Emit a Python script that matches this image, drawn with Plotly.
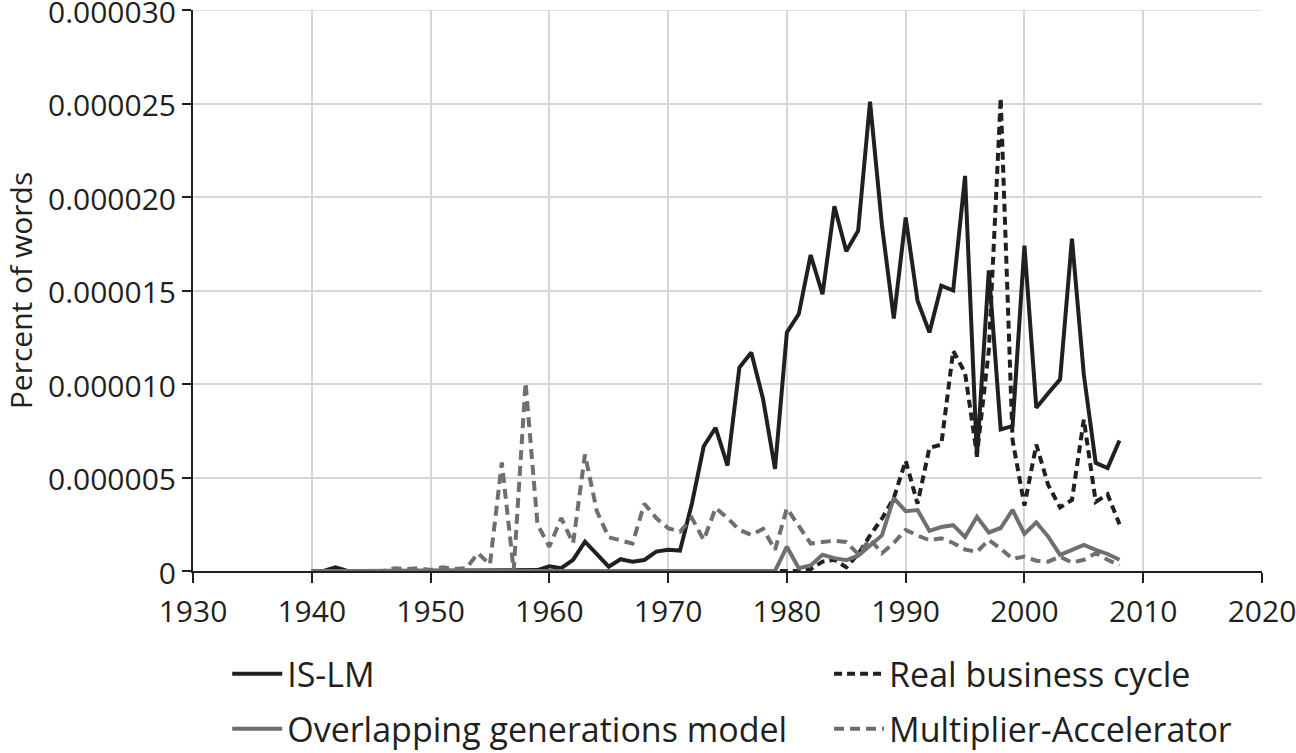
import plotly.graph_objects as go

years = list(range(1940, 2009))

# values in units of 1e-6 percent of words
is_lm = [0, 0, 0.2, 0, 0, 0, 0, 0, 0, 0,
         0, 0, 0, 0, 0, 0, 0, 0, 0, 0.05,
         0.25, 0.15, 0.6, 1.57, 0.9, 0.23, 0.63, 0.5, 0.59, 1.04,
         1.13, 1.09, 3.6, 6.67, 7.66, 5.64, 10.88, 11.69, 9.18, 5.46,
         12.76, 13.74, 16.9, 14.8, 19.5, 17.1, 18.2, 25.1, 18.5, 13.5,
         18.9, 14.45, 12.76, 15.26, 15.0, 21.13, 6.1, 16.07, 7.57, 7.75,
         17.4, 8.73, 9.5, 10.25, 17.77, 10.5, 5.78, 5.5, 6.98]

rbc = [0, 0, 0, 0, 0, 0, 0, 0, 0, 0,
       0, 0, 0, 0, 0, 0, 0, 0, 0, 0,
       0, 0, 0, 0, 0, 0, 0, 0, 0, 0,
       0, 0, 0, 0, 0, 0, 0, 0, 0, 0,
       0, 0, 0.1, 0.5, 0.6, 0.2, 0.9, 1.9, 2.8, 3.9,
       5.9, 3.6, 6.58, 6.76, 11.77, 10.6, 6.2, 11.8, 25.3, 7.0,
       3.5, 6.76, 4.6, 3.4, 3.8, 8.1, 3.7, 4.1, 2.5]

olg = [0, 0, 0, 0, 0, 0, 0, 0, 0, 0,
       0, 0, 0, 0, 0, 0, 0, 0, 0, 0,
       0, 0, 0, 0, 0, 0, 0, 0, 0, 0,
       0, 0, 0, 0, 0, 0, 0, 0, 0, 0,
       1.3, 0.15, 0.3, 0.87, 0.69, 0.58, 0.82, 1.38, 1.9, 3.9,
       3.2, 3.26, 2.15, 2.35, 2.45, 1.82, 2.9, 2.06, 2.3, 3.27,
       1.98, 2.6, 1.84, 0.86, 1.13, 1.4, 1.13, 0.91, 0.6]

mult_acc = [0, 0, 0, 0, 0, 0, 0, 0.15, 0.1, 0.15,
            0.05, 0.2, 0.1, 0.15, 0.95, 0.35, 5.8, 0.05, 10.07, 2.5,
            1.3, 2.83, 1.49, 6.23, 3.2, 1.8, 1.65, 1.47, 3.6, 2.83,
            2.29, 2.1, 2.83, 1.66, 3.37, 2.83, 2.2, 1.93, 2.25, 1.13,
            3.35, 2.4, 1.47, 1.55, 1.62, 1.55, 0.9, 1.7, 0.95, 1.5,
            2.2, 1.9, 1.64, 1.75, 1.5, 1.15, 1.02, 1.66, 1.2, 0.65,
            0.77, 0.55, 0.5, 0.77, 0.45, 0.6, 0.95, 0.6, 0.3]

scale = 1e-6
y_tickvals = [0, 0.000005, 0.00001, 0.000015, 0.00002, 0.000025, 0.00003]
y_ticktext = ["0", "0.000005", "0.000010", "0.000015", "0.000020", "0.000025", "0.000030"]
x_tickvals = [1930, 1940, 1950, 1960, 1970, 1980, 1990, 2000, 2010, 2020]

BLACK = "#231f20"
GRAY = "#6f6f6f"
GRID = "#d6d6d6"
FONT = "Open Sans"
LW = 4

fig = go.Figure()
fig.add_trace(go.Scatter(x=years, y=[v * scale for v in is_lm], mode="lines", name="IS-LM",
                         legend="legend", legendgroup="a",
                         line=dict(color=BLACK, width=LW)))
fig.add_trace(go.Scatter(x=years, y=[v * scale for v in rbc], mode="lines", name="Real business cycle",
                         legend="legend2", legendgroup="b",
                         line=dict(color=BLACK, width=LW, dash="8px,5px")))
fig.add_trace(go.Scatter(x=years, y=[v * scale for v in olg], mode="lines", name="Overlapping generations model",
                         legend="legend", legendgroup="c",
                         line=dict(color=GRAY, width=LW)))
fig.add_trace(go.Scatter(x=years, y=[v * scale for v in mult_acc], mode="lines", name="Multiplier-Accelerator",
                         legend="legend2", legendgroup="d",
                         line=dict(color=GRAY, width=LW, dash="10px,6px")))

legend_common = dict(orientation="v", y=-0.132, yanchor="top", xanchor="left",
                     itemwidth=50, tracegroupgap=8, bgcolor="rgba(0,0,0,0)",
                     font=dict(family=FONT, size=34, color=BLACK))

# top gridline at the upper range edge (plotly omits grid at the range boundary)
fig.add_shape(type="line", xref="paper", yref="y", x0=0, x1=1, y0=y_tickvals[-1], y1=y_tickvals[-1],
              line=dict(color=GRID, width=1.5), layer="below")

fig.update_layout(
    width=1296, height=753,
    margin=dict(l=193, r=34, t=10, b=182, autoexpand=False),
    paper_bgcolor="white", plot_bgcolor="white",
    font=dict(family=FONT, size=30, color=BLACK),
    showlegend=True,
    legend=dict(x=0.032, **legend_common),
    legend2=dict(x=0.595, **legend_common),
    xaxis=dict(range=[1930, 2020], tickvals=x_tickvals, showgrid=True, gridcolor=GRID, gridwidth=1.5,
               showline=True, linecolor=BLACK, linewidth=2, ticks="outside", ticklen=10, tickwidth=2,
               tickcolor=BLACK, zeroline=False, tickfont=dict(size=30), ticklabeloverflow="allow",
               ticklabelstandoff=3),
    yaxis=dict(range=[0, 0.00003], tickvals=y_tickvals, ticktext=y_ticktext, showgrid=True,
               gridcolor=GRID, gridwidth=1.5, showline=True, linecolor=BLACK, linewidth=2,
               ticks="outside", ticklen=9, tickwidth=2, tickcolor=BLACK, zeroline=False,
               tickfont=dict(size=30), ticklabeloverflow="allow", ticklabelshift=2,
               title=dict(text="Percent of words", font=dict(size=30), standoff=16)),
)

fig.write_html("out.html")
